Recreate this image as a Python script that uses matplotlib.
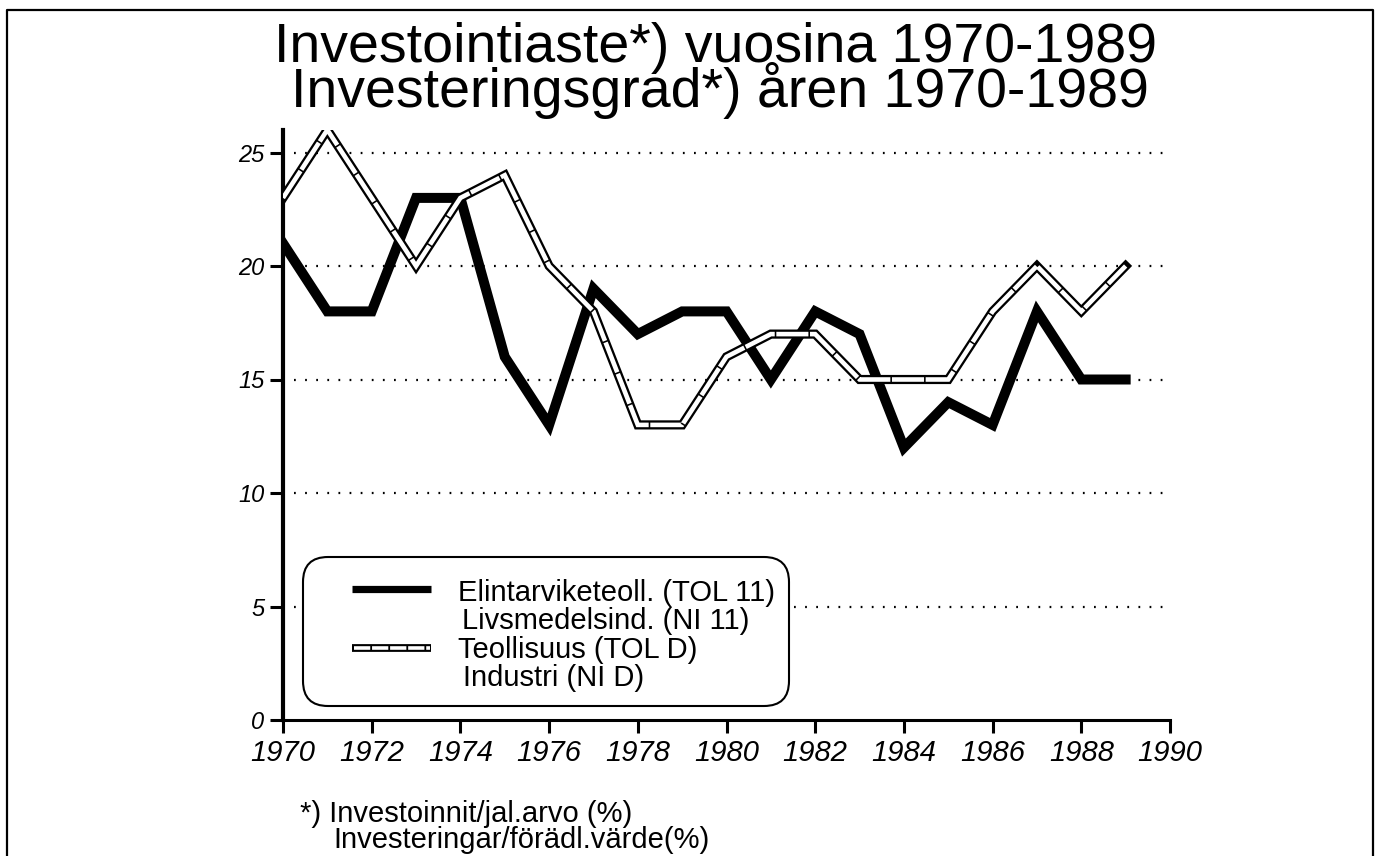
import matplotlib
matplotlib.use('Agg')
import matplotlib.pyplot as plt
from matplotlib.lines import Line2D
from matplotlib.patches import FancyBboxPatch

plt.rcParams['font.family'] = ['Liberation Sans', 'DejaVu Sans']

# Tiedot / data
years = list(range(1970, 1990))
elintarvike = [21, 18, 18, 23, 23, 16, 13, 19, 17, 18, 18, 15, 18, 17, 12, 14, 13, 18, 15, 15]
teollisuus = [23, 26, 23, 20, 23, 24, 20, 18, 13, 13, 16, 17, 17, 15, 15, 15, 18, 20, 18, 20]

x_ticks = list(range(1970, 1991, 2))
y_ticks = [0, 5, 10, 15, 20, 25]
grid_levels = [5, 10, 15, 20, 25]

title_fi = 'Investointiaste*) vuosina 1970-1989'
title_sv = 'Investeringsgrad*) åren 1970-1989'
legend_labels = ['Elintarviketeoll. (TOL 11)', 'Livsmedelsind. (NI 11)',
                 'Teollisuus (TOL D)', 'Industri (NI D)']
footnote = ['*) Investoinnit/jal.arvo (%)', 'Investeringar/förädl.värde(%)']

W, H = 1379, 856
fig = plt.figure(figsize=(W / 100, H / 100), dpi=100)
ax = fig.add_axes([283 / W, 1 - 720 / H, 887 / W, 26 * 22.7 / H])

# pisteviivat
ax.hlines(grid_levels, 1970.25, 1990, colors='black', lw=1.6,
          linestyles=[(0, (0.8, 4.2))], zorder=1)

ax.plot(years, elintarvike, color='black', lw=7.2, solid_joinstyle='miter', zorder=3)
ax.plot(years, teollisuus, color='black', lw=6.6, solid_joinstyle='miter', zorder=4)
ax.plot(years, teollisuus, color='white', lw=3.3, linestyle=(0, (7, 0.35)),
        dash_joinstyle='miter', zorder=5)

ax.set_xlim(1970, 1990)
ax.set_ylim(0, 26)
ax.set_xticks(x_ticks)
ax.set_yticks(y_ticks)
ax.set_xticklabels([str(v) for v in x_ticks], fontsize=21, style='italic')
ax.set_yticklabels([str(v) for v in y_ticks], fontsize=17, style='italic')
ax.tick_params(axis='x', direction='out', length=9, width=2.2, pad=5)
ax.tick_params(axis='y', direction='out', length=9.5, width=2.2, pad=4)
for s in ['top', 'right']:
    ax.spines[s].set_visible(False)
ax.spines['left'].set_linewidth(3)
ax.spines['bottom'].set_linewidth(2.2)
ax.patch.set_visible(False)

# otsikko
fig.text(716 / W, 1 - 62 / H, title_fi, fontsize=40, ha='center', va='baseline')
fig.text(720 / W, 1 - 107 / H, title_sv, fontsize=40, ha='center', va='baseline')

# selite
box = FancyBboxPatch((303 / 100, (H - 706) / 100), (789 - 303) / 100, (706 - 557) / 100,
                     boxstyle='round,pad=0,rounding_size=0.25',
                     transform=fig.dpi_scale_trans, facecolor='white',
                     edgecolor='black', lw=1.5, zorder=10)
fig.add_artist(box)
fig.add_artist(Line2D([352 / W, 431 / W], [1 - 589 / H] * 2, color='black', lw=5.2,
                      solid_capstyle='butt', zorder=11))
fig.add_artist(Line2D([352 / W, 431 / W], [1 - 648 / H] * 2, color='black', lw=5.6,
                      solid_capstyle='butt', zorder=11))
fig.add_artist(Line2D([353.5 / W, 429.5 / W], [1 - 648 / H] * 2, color='white', lw=2.6,
                      linestyle=(0, (4.5, 0.5)), solid_capstyle='butt', zorder=12))
for label, (lx, ly) in zip(legend_labels, [(458, 601), (462, 629), (458, 658), (463, 686)]):
    fig.text(lx / W, 1 - ly / H, label, fontsize=21, ha='left', va='baseline', zorder=13)

# alaviite
fig.text(300 / W, 1 - 822 / H, footnote[0], fontsize=21, ha='left', va='baseline')
fig.text(333 / W, 1 - 848 / H, footnote[1], fontsize=21, ha='left', va='baseline')

# kehys
fig.add_artist(Line2D([7 / W, 7 / W, 1373 / W, 1373 / W], [0, 1 - 10 / H, 1 - 10 / H, 0],
                      color='black', lw=1.6))

fig.savefig('out.png', dpi=100)
